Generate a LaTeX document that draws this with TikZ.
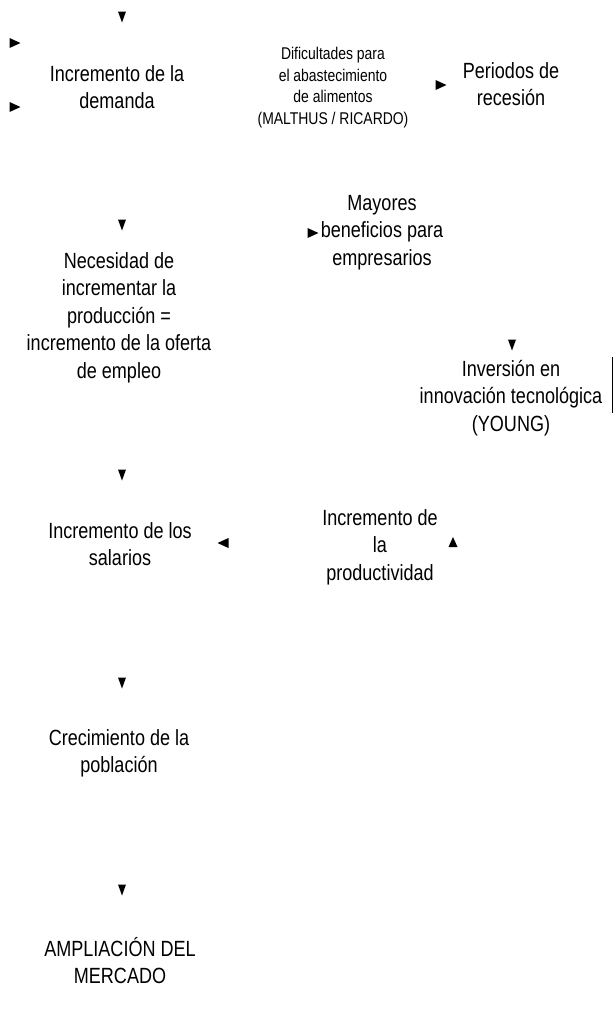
\documentclass[tikz,border=0pt]{standalone}
\usepackage{fontspec}
\setmainfont[FakeStretch=0.82]{Liberation Sans}
\begin{document}
\begin{tikzpicture}[x=1pt,y=-1pt,
  big/.style={font=\fontsize{22}{27.5}\selectfont, align=center, anchor=north, inner sep=0pt},
  small/.style={font=\fontsize{17}{21.5}\selectfont, align=center, anchor=north, inner sep=0pt},
  tridn/.pic={\fill (-4,-5.5) -- (4,-5.5) -- (0,5.5) -- cycle;},
  triup/.pic={\fill (-4.5,5) -- (4.5,5) -- (0,-5) -- cycle;},
  trirt/.pic={\fill (-5.5,-5) -- (-5.5,5) -- (5.5,0) -- cycle;},
  trilt/.pic={\fill (5.5,-5) -- (5.5,5) -- (-5.5,0) -- cycle;}]
\useasboundingbox (0,0) rectangle (613,1018);

\node[big] (dem) at (117,65) {Incremento de la\\demanda};
\node[small] (dif) at (333,47) {Dificultades para\\el abastecimiento\\de alimentos\\(MALTHUS / RICARDO)};
\node[big] (per) at (511,62) {Periodos de\\recesión};
\node[big] (nec) at (119,252) {Necesidad de\\incrementar la\\producción =\\incremento de la oferta\\de empleo};
\node[big] (may) at (382,195) {Mayores\\beneficios para\\empresarios};
\node[big] (inv) at (511,360) {Inversión en\\innovación tecnológica\\(YOUNG)};
\node[big] (sal) at (120,522) {Incremento de los\\salarios};
\node[big] (pro) at (380,509) {Incremento de\\la\\productividad};
\node[big] (pob) at (119,729) {Crecimiento de la\\población};
\node[big] (amp) at (120,937) {AMPLIACIÓN DEL\\MERCADO};

\pic (a1) at (122,17) {tridn};
\pic (a2) at (15,43) {trirt};
\pic (a3) at (15,107) {trirt};
\pic (a4) at (441,85) {trirt};
\pic (a5) at (122,225) {tridn};
\pic (a6) at (313,233) {trirt};
\pic (a7) at (512,345) {tridn};
\pic (a8) at (122,475) {tridn};
\pic (a9) at (223,543) {trilt};
\pic (a10) at (453,542) {triup};
\pic (a11) at (122,683) {tridn};
\pic (a12) at (122,890) {tridn};

\coordinate (l1) at (612,357);
\coordinate (l2) at (612,413);
\draw[line width=0.8pt] (l1) -- (l2);
\end{tikzpicture}
\end{document}
